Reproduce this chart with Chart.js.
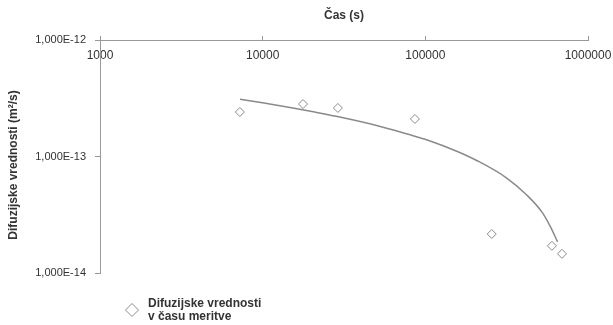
<!DOCTYPE html>
<html>
<head>
<meta charset="utf-8">
<script src="https://cdn.jsdelivr.net/npm/chart.js@4/dist/chart.umd.min.js"></script>
<style>
  html, body { margin: 0; padding: 0; background: #fff; }
  canvas { display: block; }
</style>
</head>
<body>
<canvas id="c" width="613" height="325"></canvas>
<script>
// Measured diffusion values over time
const timeS = [7240, 17700, 29000, 86300, 256000, 600000, 692000];
const diffusion = [2.41e-13, 2.82e-13, 2.61e-13, 2.10e-13, 2.16e-14, 1.71e-14, 1.46e-14];

// Trend curve through the measurements
const trendTimeS = [7260, 10190, 15330, 20470, 30780, 51460, 77330, 103800, 156000, 208300, 313300, 418700, 524000, 587000, 650000];
const trendDiffusion = [3.10e-13, 2.88e-13, 2.61e-13, 2.42e-13, 2.16e-13, 1.83e-13, 1.56e-13, 1.38e-13, 1.11e-13, 9.2e-14, 6.6e-14, 4.7e-14, 3.3e-14, 2.5e-14, 1.85e-14];

// Axis ticks
const xTickValues = [1000, 10000, 100000, 1000000];
const xTickLabels = ['1000', '10000', '100000', '1000000'];
const yTickValues = [1e-14, 1e-13, 1e-12];
const yTickLabels = ['1,000E-14', '1,000E-13', '1,000E-12'];

const xTitle = 'Čas (s)';
const yTitle = 'Difuzijske vrednosti (m²/s)';
const legendLines = ['Difuzijske vrednosti', 'v času meritve'];

const FONT = 'Liberation Sans, Arial, sans-serif';
const TEXT = '#333';
const AXIS = '#999';

const measurePoints = timeS.map((t, i) => ({ x: t, y: diffusion[i] }));
const trendPoints = trendTimeS.map((t, i) => ({ x: t, y: trendDiffusion[i] }));

// Legend box in the lower left corner
const legendBox = {
  id: 'legendBox',
  afterDraw(chart) {
    const ctx = chart.ctx;
    const ds = chart.data.datasets[1];
    ctx.save();
    const cx = 132, cy = 310, r = 6.5;
    ctx.beginPath();
    ctx.moveTo(cx, cy - r);
    ctx.lineTo(cx + r, cy);
    ctx.lineTo(cx, cy + r);
    ctx.lineTo(cx - r, cy);
    ctx.closePath();
    ctx.fillStyle = '#fff';
    ctx.fill();
    ctx.lineWidth = 1;
    ctx.strokeStyle = ds.borderColor;
    ctx.stroke();
    ctx.fillStyle = TEXT;
    ctx.font = 'bold 12px ' + FONT;
    ctx.textBaseline = 'middle';
    ctx.textAlign = 'left';
    legendLines.forEach((line, i) => ctx.fillText(line, 148, 304 + i * 13));
    ctx.restore();
  }
};

// Vertical axis title, drawn beside the value labels
const yTitlePlugin = {
  id: 'yTitle',
  afterDraw(chart) {
    const ctx = chart.ctx;
    ctx.save();
    ctx.translate(14, 165);
    ctx.rotate(-Math.PI / 2);
    ctx.fillStyle = TEXT;
    ctx.font = 'bold 12px ' + FONT;
    ctx.textAlign = 'center';
    ctx.textBaseline = 'middle';
    ctx.fillText(yTitle, 0, 0);
    ctx.restore();
  }
};

new Chart(document.getElementById('c'), {
  type: 'scatter',
  data: {
    datasets: [
      {
        label: 'Trend',
        data: trendPoints,
        showLine: true,
        borderColor: '#8a8a8a',
        borderWidth: 1.5,
        pointRadius: 0,
        cubicInterpolationMode: 'monotone',
        fill: false
      },
      {
        label: legendLines.join(' '),
        data: measurePoints,
        pointStyle: 'rectRot',
        pointRadius: 4.5,
        pointBackgroundColor: '#fff',
        borderColor: '#8a8a8a',
        pointBorderWidth: 1,
        showLine: false
      }
    ]
  },
  options: {
    responsive: false,
    animation: false,
    layout: { padding: { left: 0, top: 0, right: 25, bottom: 52 } },
    plugins: { legend: { display: false }, tooltip: { enabled: false } },
    scales: {
      x: {
        type: 'logarithmic',
        position: 'top',
        min: 1000,
        max: 1000000,
        afterBuildTicks: s => { s.ticks = xTickValues.map(v => ({ value: v })); },
        afterFit: s => { s.height = 40; s.paddingLeft = 0; s.paddingRight = 0; },
        ticks: {
          mirror: true,
          padding: 8,
          maxRotation: 0,
          autoSkip: false,
          color: TEXT,
          font: { family: FONT, size: 12 },
          callback: (v, i) => xTickLabels[i]
        },
        grid: { drawOnChartArea: false, tickLength: 4, color: AXIS },
        border: { color: AXIS, width: 1 },
        title: {
          display: true,
          text: xTitle,
          color: TEXT,
          font: { family: FONT, size: 12, weight: 'bold' },
          padding: { top: 8, bottom: 0 }
        }
      },
      y: {
        type: 'logarithmic',
        position: 'left',
        min: 1e-14,
        max: 1e-12,
        afterBuildTicks: s => { s.ticks = yTickValues.map(v => ({ value: v })); },
        afterFit: s => { s.width = 100; s.paddingTop = 0; s.paddingBottom = 0; },
        ticks: {
          padding: 9,
          autoSkip: false,
          color: TEXT,
          font: { family: FONT, size: 11 },
          callback: (v, i) => yTickLabels[i]
        },
        grid: { drawOnChartArea: false, tickLength: 5, color: AXIS },
        border: { color: AXIS, width: 1 },
        title: { display: false }
      }
    }
  },
  plugins: [legendBox, yTitlePlugin]
});
</script>
</body>
</html>
